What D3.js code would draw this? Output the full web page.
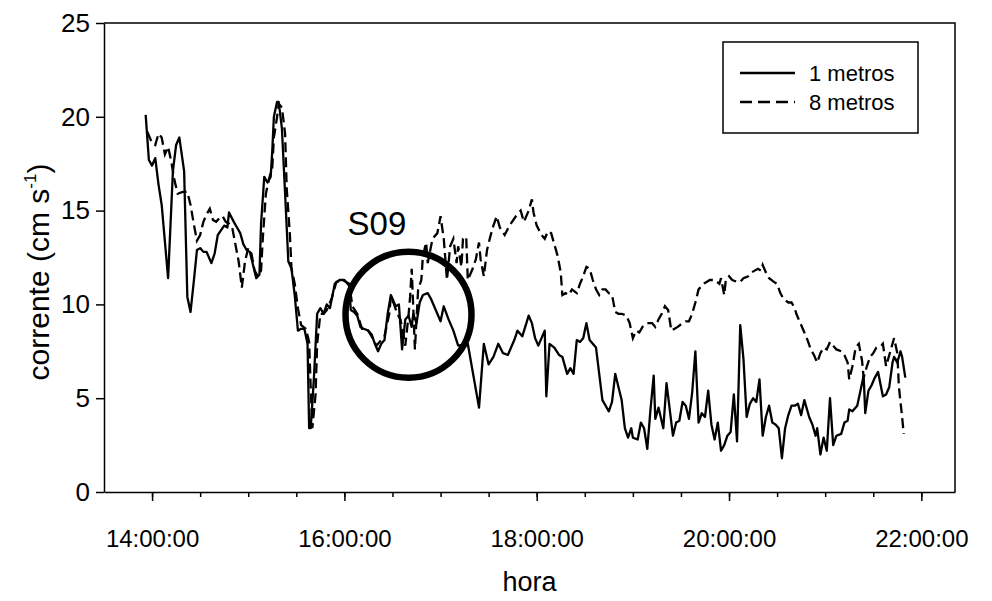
<!DOCTYPE html>
<html>
<head>
<meta charset="utf-8">
<script src="https://cdn.jsdelivr.net/npm/d3@7"></script>
<style>
  body { margin: 0; background: #fff; }
  svg { display: block; font-family: "Liberation Sans", Arial, sans-serif; }
</style>
</head>
<body>
<div id="viz"></div>
<script>
// readings taken off the plot, time (HH:MM) and current in cm/s
const times1m = ["13:56","13:58","14:00","14:02","14:04","14:06","14:10","14:13","14:15","14:17","14:20","14:22","14:24","14:26","14:28","14:30","14:32","14:34","14:37","14:39","14:41","14:45","14:47","14:48","14:51","14:53","14:55","14:57","14:59","15:01","15:03","15:05","15:07","15:08","15:10","15:12","15:14","15:15","15:16","15:18","15:19","15:21","15:23","15:25","15:27","15:29","15:31","15:33","15:35","15:37","15:38","15:39","15:41","15:43","15:45","15:47","15:49","15:51","15:54","15:57","16:00","16:03","16:04","16:06","16:08","16:10","16:12","16:15","16:17","16:19","16:21","16:23","16:25","16:27","16:29","16:31","16:32","16:34","16:36","16:38","16:40","16:42","16:43","16:45","16:47","16:49","16:52","16:54","16:57","17:00","17:02","17:05","17:08","17:11","17:17","17:24","17:27","17:30","17:33","17:36","17:39","17:42","17:46","17:48","17:51","17:55","17:57","17:59","18:01","18:03","18:05","18:06","18:08","18:11","18:14","18:16","18:19","18:21","18:23","18:25","18:27","18:29","18:31","18:33","18:35","18:37","18:39","18:41","18:43","18:45","18:47","18:49","18:51","18:53","18:55","18:57","18:59","19:00","19:03","19:05","19:07","19:09","19:11","19:13","19:14","19:16","19:19","19:21","19:23","19:25","19:27","19:29","19:31","19:33","19:35","19:37","19:39","19:41","19:43","19:45","19:47","19:49","19:51","19:53","19:55","19:57","19:59","20:01","20:03","20:05","20:07","20:09","20:11","20:13","20:15","20:17","20:19","20:21","20:23","20:25","20:27","20:29","20:31","20:33","20:35","20:37","20:39","20:41","20:43","20:45","20:47","20:50","20:52","20:54","20:55","20:57","20:59","21:01","21:03","21:05","21:07","21:10","21:12","21:14","21:15","21:17","21:20","21:22","21:24","21:25","21:27","21:29","21:31","21:33","21:36","21:38","21:40","21:42","21:43","21:45","21:47","21:48","21:50"];
const values1m = [20.1,17.7,17.4,17.8,16.4,15.3,11.4,17.1,18.5,18.9,17.1,10.4,9.6,11.2,12.9,13.0,12.8,12.8,12.2,12.7,13.7,14.2,14.1,14.9,14.4,14.1,13.8,13.2,12.9,12.8,12.1,11.4,11.6,14.3,16.8,16.5,16.8,18.2,20.0,20.8,20.8,19.4,15.9,12.3,11.9,10.5,8.6,8.7,8.7,7.9,3.4,3.4,6.1,9.5,9.8,9.5,10.0,9.8,11.1,11.3,11.3,11.0,9.7,9.6,9.4,8.8,8.7,8.6,8.4,7.9,7.5,7.9,8.1,9.5,10.5,10.1,9.9,10.0,7.6,9.2,9.4,8.8,9.5,9.0,10.1,10.5,10.6,10.3,9.7,9.1,9.9,9.2,8.6,7.8,7.9,4.5,7.9,6.8,7.2,7.9,7.4,7.3,8.1,8.6,8.3,9.4,9.0,8.2,7.8,8.2,8.6,5.1,7.9,7.7,7.3,7.2,6.3,6.6,6.3,8.1,8.0,8.2,9.0,8.1,7.9,7.7,6.3,4.9,4.6,4.3,4.8,6.3,5.6,4.9,3.4,2.9,3.4,2.9,2.8,3.7,3.4,2.3,4.4,6.2,3.9,4.5,3.4,5.8,4.4,3.0,3.7,3.8,4.8,4.6,3.9,5.3,7.5,3.7,4.2,4.0,5.4,3.6,2.8,3.7,2.2,2.5,3.0,3.2,5.2,2.7,8.9,7.1,4.0,4.7,5.0,4.8,6.0,3.0,4.0,4.6,3.7,3.6,3.4,1.8,3.4,4.1,4.6,4.6,4.7,4.1,4.9,4.0,3.6,3.0,3.4,2.0,2.9,2.2,5.0,2.5,3.0,3.1,3.7,3.8,4.4,4.3,4.6,5.4,6.2,4.2,5.4,5.7,6.1,6.4,5.1,5.2,5.6,6.9,7.2,6.9,7.5,7.2,6.1];

const times8m = ["13:57","14:00","14:02","14:04","14:06","14:08","14:10","14:12","14:14","14:16","14:19","14:22","14:24","14:26","14:28","14:30","14:32","14:34","14:36","14:38","14:40","14:42","14:44","14:46","14:48","14:50","14:52","14:54","14:56","14:58","15:00","15:02","15:04","15:06","15:08","15:09","15:11","15:13","15:15","15:16","15:18","15:19","15:21","15:23","15:24","15:26","15:27","15:29","15:31","15:33","15:36","15:38","15:39","15:40","15:42","15:43","15:45","15:47","15:49","15:52","15:55","15:59","16:03","16:05","16:08","16:11","16:14","16:17","16:20","16:23","16:25","16:28","16:29","16:31","16:33","16:35","16:38","16:40","16:41","16:42","16:44","16:46","16:48","16:49","16:51","16:52","16:55","16:58","17:00","17:02","17:04","17:06","17:08","17:10","17:11","17:13","17:14","17:16","17:17","17:20","17:22","17:24","17:25","17:27","17:29","17:31","17:33","17:35","17:37","17:40","17:43","17:47","17:50","17:52","17:55","17:57","17:58","18:00","18:03","18:05","18:07","18:09","18:11","18:13","18:15","18:16","18:18","18:20","18:22","18:25","18:27","18:29","18:31","18:33","18:35","18:37","18:39","18:41","18:43","18:45","18:47","18:49","18:51","18:53","18:56","18:58","19:00","19:02","19:04","19:06","19:09","19:12","19:14","19:16","19:18","19:20","19:22","19:24","19:26","19:28","19:31","19:33","19:35","19:37","19:39","19:41","19:44","19:46","19:48","19:51","19:54","19:55","19:57","19:58","20:00","20:02","20:05","20:07","20:09","20:12","20:14","20:16","20:18","20:20","20:21","20:23","20:25","20:28","20:30","20:32","20:34","20:37","20:39","20:41","20:42","20:45","20:47","20:49","20:51","20:53","20:55","20:57","20:59","21:01","21:03","21:05","21:07","21:10","21:12","21:14","21:15","21:17","21:19","21:21","21:23","21:24","21:26","21:28","21:30","21:32","21:35","21:36","21:38","21:40","21:42","21:43","21:45","21:46","21:48","21:49"];
const values8m = [19.2,18.6,18.5,19.1,18.9,18.0,18.4,17.6,16.6,15.9,16.0,16.0,15.3,14.3,13.4,13.7,14.4,14.8,15.1,14.5,14.4,14.6,14.7,14.4,14.3,14.1,13.2,12.3,10.9,12.3,13.0,12.7,11.8,11.5,11.8,13.4,15.9,16.7,17.3,18.9,20.0,20.7,20.5,19.1,16.2,13.7,11.9,11.1,9.8,8.9,8.7,8.0,5.5,3.4,5.2,7.9,9.5,9.5,9.7,10.3,11.2,11.3,11.1,9.9,9.5,8.7,8.7,8.3,7.8,8.1,8.3,9.5,10.4,10.0,9.5,9.2,7.8,9.4,10.4,11.9,7.6,10.8,11.3,12.6,13.3,12.2,13.5,13.8,14.7,13.5,11.3,13.1,13.5,12.2,13.1,12.0,13.5,13.6,11.3,11.9,12.4,13.3,12.4,11.5,12.9,13.6,14.2,14.7,14.1,13.7,14.2,14.7,15.0,14.4,15.0,15.6,14.9,14.2,13.7,13.5,13.9,13.8,13.2,12.6,11.7,10.5,10.6,10.5,10.8,10.6,11.1,11.5,12.0,11.9,11.3,10.8,10.5,10.8,10.8,10.6,10.5,9.6,9.5,9.5,9.4,9.0,8.2,8.6,8.5,8.8,9.0,9.0,8.8,9.2,9.5,9.9,9.7,8.6,8.7,8.8,9.0,9.1,9.1,9.5,10.1,10.8,11.1,11.2,11.3,11.3,11.1,11.4,10.5,11.3,11.5,11.3,11.2,11.2,11.4,11.5,11.7,11.8,11.9,11.8,12.1,11.7,11.4,11.2,11.1,10.6,10.3,10.1,10.1,9.8,9.5,8.9,8.5,8.1,7.6,7.3,6.9,7.4,7.7,7.6,8.0,7.8,7.6,7.5,7.3,6.9,6.0,6.7,7.7,7.9,7.0,6.1,6.7,7.2,7.4,7.7,7.8,7.9,6.7,7.3,7.9,8.2,7.4,5.6,4.0,3.1];

const majorTicks = ["14:00","16:00","18:00","20:00","22:00"];
const minorTicks = ["14:00","14:30","15:00","15:30","16:00","16:30","17:00","17:30","18:00","18:30","19:00","19:30","20:00","20:30","21:00","21:30","22:00"];
const yTicks = [0, 5, 10, 15, 20, 25];
const seriesNames = ["1 metros", "8 metros"];

const width = 992;
const height = 601;
const margin = {top: 23, right: 37, bottom: 109, left: 104};

const parseTime = d3.timeParse("%H:%M");

const svg = d3.select("#viz")
    .append("svg")
    .attr("width", width)
    .attr("height", height);

const x = d3.scaleTime()
    .domain([parseTime("13:30"), parseTime("22:21")])
    .range([margin.left, width - margin.right]);

const y = d3.scaleLinear()
    .domain([0, 25])
    .range([height - margin.bottom, margin.top]);

// frame: top and right edges
svg.append("path")
    .attr("d", `M${margin.left},${margin.top}H${width - margin.right}V${height - margin.bottom}`)
    .attr("fill", "none")
    .attr("stroke", "#000")
    .attr("stroke-width", 1.5);

// minor ticks on x
svg.append("g")
    .attr("transform", `translate(0, ${height - margin.bottom})`)
    .call(d3.axisBottom(x).tickValues(minorTicks.map(parseTime)).tickSize(5).tickFormat(""))
    .call(g => g.select(".domain").remove())
    .call(g => g.selectAll("line").attr("stroke-width", 1.5));

// major ticks with labels
svg.append("g")
    .attr("transform", `translate(0, ${height - margin.bottom})`)
    .call(d3.axisBottom(x)
        .tickValues(majorTicks.map(parseTime))
        .tickSize(9)
        .tickSizeOuter(0)
        .tickPadding(29)
        .tickFormat(d3.timeFormat("%H:%M:%S")))
    .call(g => g.select(".domain").attr("stroke-width", 1.5))
    .call(g => g.selectAll("line").attr("stroke-width", 1.5))
    .call(g => g.selectAll("text").attr("font-size", 24).attr("font-family", null).attr("fill", "#000"));

// y axis
svg.append("g")
    .attr("transform", `translate(${margin.left}, 0)`)
    .call(d3.axisLeft(y).tickValues(yTicks).tickSize(8).tickSizeOuter(0).tickPadding(6))
    .call(g => g.select(".domain").attr("stroke-width", 1.5))
    .call(g => g.selectAll("line").attr("stroke-width", 1.5))
    .call(g => g.selectAll("text").attr("font-size", 26).attr("font-family", null).attr("fill", "#000"));

// axis titles
svg.append("text")
    .attr("x", (margin.left + width - margin.right) / 2)
    .attr("y", 591)
    .attr("text-anchor", "middle")
    .attr("font-size", 27)
    .text("hora");

const yTitle = svg.append("text")
    .attr("transform", "translate(49, 272) rotate(-90)")
    .attr("text-anchor", "middle")
    .attr("font-size", 30);
yTitle.append("tspan").text("corrente (cm s");
yTitle.append("tspan").attr("font-size", 17).attr("dy", -13).text("-1");
yTitle.append("tspan").attr("dy", 13).text(")");

// lines
const line = d3.line()
    .x(d => x(d.t))
    .y(d => y(d.v));

const data1m = times1m.map((t, i) => ({t: parseTime(t), v: values1m[i]}));
const data8m = times8m.map((t, i) => ({t: parseTime(t), v: values8m[i]}));

svg.append("path")
    .attr("d", line(data8m))
    .attr("fill", "none")
    .attr("stroke", "#000")
    .attr("stroke-width", 2.3)
    .attr("stroke-dasharray", "10,5");

svg.append("path")
    .attr("d", line(data1m))
    .attr("fill", "none")
    .attr("stroke", "#000")
    .attr("stroke-width", 2.3)
    .attr("stroke-linejoin", "round");

// S09 annotation
svg.append("circle")
    .attr("cx", x(parseTime("16:40")))
    .attr("cy", y(9.45))
    .attr("r", 63)
    .attr("fill", "none")
    .attr("stroke", "#000")
    .attr("stroke-width", 6.5);

svg.append("text")
    .attr("x", x(parseTime("16:02")))
    .attr("y", y(13.7))
    .attr("font-size", 33)
    .text("S09");

// legend
const legend = svg.append("g").attr("transform", "translate(723, 42)");
legend.append("rect")
    .attr("width", 195)
    .attr("height", 91)
    .attr("fill", "#fff")
    .attr("stroke", "#000")
    .attr("stroke-width", 1.5);

seriesNames.forEach((name, i) => {
    legend.append("line")
        .attr("x1", 17).attr("x2", 72)
        .attr("y1", 31 + i * 29).attr("y2", 31 + i * 29)
        .attr("stroke", "#000")
        .attr("stroke-width", 2.3)
        .attr("stroke-dasharray", i === 0 ? null : "12,6");
    legend.append("text")
        .attr("x", 86)
        .attr("y", 39 + i * 29)
        .attr("font-size", 22)
        .text(name);
});
</script>
</body>
</html>
